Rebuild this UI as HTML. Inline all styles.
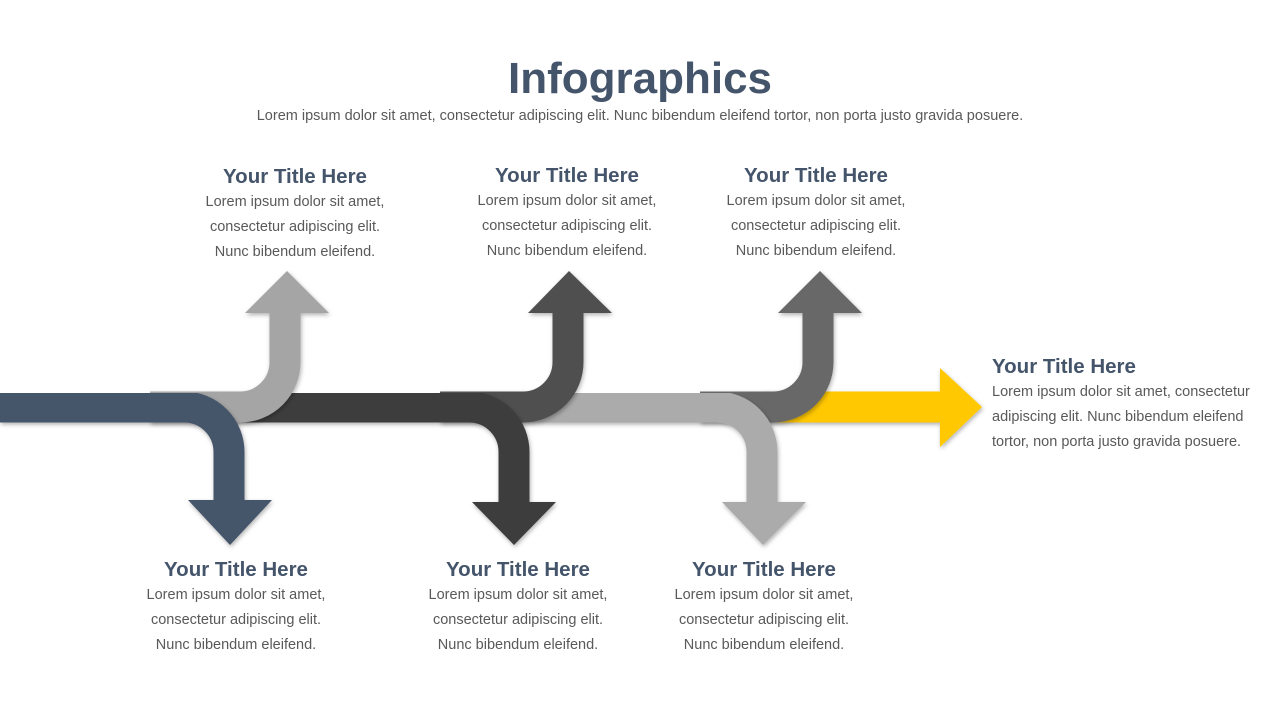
<!DOCTYPE html>
<html><head><meta charset="utf-8"><style>
body{margin:0;width:1280px;height:720px;background:#fff;position:relative;overflow:hidden;font-family:"Liberation Sans",sans-serif}
.t{position:absolute;text-align:center;color:#595959;font-size:14.5px;line-height:25px;width:300px}
.t b{display:block;color:#44546a;font-size:20.5px;line-height:26px;margin-bottom:0}
</style></head><body>
<div style="position:absolute;top:51px;width:1280px;text-align:center;color:#44546a;font-size:44px;font-weight:bold;line-height:56px">Infographics</div>
<div style="position:absolute;top:106px;width:1280px;text-align:center;color:#595959;font-size:14.5px;line-height:20px">Lorem ipsum dolor sit amet, consectetur adipiscing elit. Nunc bibendum eleifend tortor, non porta justo gravida posuere.</div>

<svg width="1280" height="720" style="position:absolute;left:0;top:0">
<defs><filter id="s" x="-10%" y="-10%" width="130%" height="130%"><feDropShadow dx="1" dy="2" stdDeviation="2" flood-color="#000" flood-opacity="0.3"/></filter></defs>
<g fill="none" stroke-width="31">
<g filter="url(#s)"><path d="M760,407 H942" stroke="#ffc800"/><polygon points="940,368 982,407 940,447" fill="#ffc800" stroke="none"/></g>
<g filter="url(#s)"><path d="M700,407 H773 A45 45 0 0 0 818 362 V312" stroke="#686868"/><polygon points="778,313 862,313 820,271" fill="#686868" stroke="none"/></g>
<g filter="url(#s)"><path d="M500,407 H717 A45 45 0 0 1 762 452 V504" stroke="#ababab"/><polygon points="722,502 806,502 763,545" fill="#ababab" stroke="none"/></g>
<g filter="url(#s)"><path d="M440,407 H523 A45 45 0 0 0 568 362 V312" stroke="#505050"/><polygon points="528,313 612,313 569,271" fill="#505050" stroke="none"/></g>
<g filter="url(#s)"><path d="M200,407 H469 A45 45 0 0 1 514 452 V504" stroke="#3d3d3d"/><polygon points="472,502 556,502 514,545" fill="#3d3d3d" stroke="none"/></g>
<g filter="url(#s)"><path d="M150,407 H240 A45 45 0 0 0 285 362 V312" stroke="#a5a5a5"/><polygon points="245,313 329,313 287,271" fill="#a5a5a5" stroke="none"/></g>
<g filter="url(#s)"><path d="M0,407 H184 A45 45 0 0 1 229 452 V502" stroke="#44546a"/><polygon points="188,500 272,500 230,545" fill="#44546a" stroke="none"/></g>
</g></svg>

<div class="t" style="left:145px;top:164px"><b>Your Title Here</b>Lorem ipsum dolor sit amet,<br>consectetur adipiscing elit.<br>Nunc bibendum eleifend.</div>
<div class="t" style="left:417px;top:163px"><b>Your Title Here</b>Lorem ipsum dolor sit amet,<br>consectetur adipiscing elit.<br>Nunc bibendum eleifend.</div>
<div class="t" style="left:666px;top:163px"><b>Your Title Here</b>Lorem ipsum dolor sit amet,<br>consectetur adipiscing elit.<br>Nunc bibendum eleifend.</div>
<div class="t" style="left:86px;top:557px"><b>Your Title Here</b>Lorem ipsum dolor sit amet,<br>consectetur adipiscing elit.<br>Nunc bibendum eleifend.</div>
<div class="t" style="left:368px;top:557px"><b>Your Title Here</b>Lorem ipsum dolor sit amet,<br>consectetur adipiscing elit.<br>Nunc bibendum eleifend.</div>
<div class="t" style="left:614px;top:557px"><b>Your Title Here</b>Lorem ipsum dolor sit amet,<br>consectetur adipiscing elit.<br>Nunc bibendum eleifend.</div>
<div class="t" style="left:992px;top:354px;text-align:left;width:285px"><b>Your Title Here</b>Lorem ipsum dolor sit amet, consectetur<br>adipiscing elit. Nunc bibendum eleifend<br>tortor, non porta justo gravida posuere.</div>
</body></html>
